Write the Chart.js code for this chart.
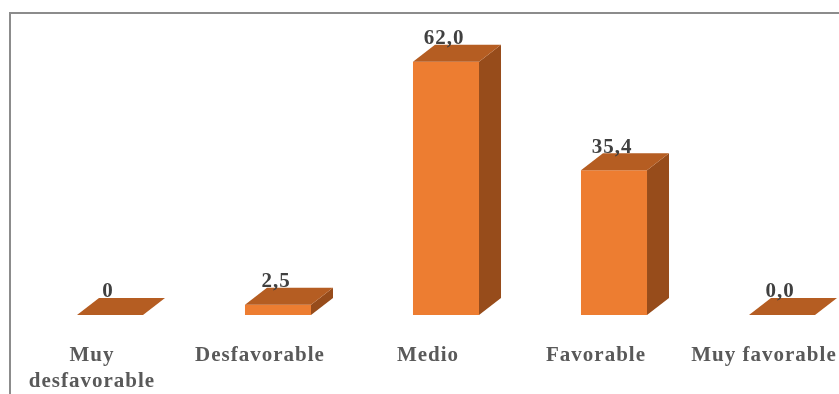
<!DOCTYPE html>
<html>
<head>
<meta charset="utf-8">
<script src="https://cdn.jsdelivr.net/npm/chart.js@4"></script>
<style>
  html, body { margin: 0; padding: 0; background: #fff; overflow: hidden; }
  #wrap { width: 900px; height: 394px; position: relative; }
</style>
</head>
<body>
<div id="wrap"><canvas id="c"></canvas></div>
<script>
const categories = [["Muy", "desfavorable"], "Desfavorable", "Medio", "Favorable", "Muy favorable"];
const values = [0, 2.5, 62.0, 35.4, 0.0];
const valueLabels = ["0", "2,5", "62,0", "35,4", "0,0"];

const FRONT = '#ED7D31';
const TOP = '#B55D22';
const SIDE = '#974C1B';
const DX = 22, DY = -17;

const framePlugin = {
  id: 'frame',
  beforeDraw(chart) {
    const ctx = chart.ctx;
    ctx.save();
    ctx.strokeStyle = '#8c8c8c';
    ctx.lineWidth = 2;
    ctx.strokeRect(10, 13, 2000, 2000);
    ctx.restore();
    ctx.letterSpacing = '1px';
  },
  afterDraw(chart) {
    chart.ctx.letterSpacing = '0px';
  }
};

const bar3dPlugin = {
  id: 'bar3d',
  afterDatasetsDraw(chart) {
    const ctx = chart.ctx;
    const meta = chart.getDatasetMeta(0);
    ctx.save();
    meta.data.forEach((bar, i) => {
      const p = bar.getProps(['x', 'y', 'base', 'width'], true);
      const l = p.x - p.width / 2, r = p.x + p.width / 2;
      ctx.fillStyle = SIDE;
      ctx.beginPath();
      ctx.moveTo(r, p.y);
      ctx.lineTo(r + DX, p.y + DY);
      ctx.lineTo(r + DX, p.base + DY);
      ctx.lineTo(r, p.base);
      ctx.closePath();
      ctx.fill();
      ctx.fillStyle = TOP;
      ctx.beginPath();
      ctx.moveTo(l, p.y);
      ctx.lineTo(l + DX, p.y + DY);
      ctx.lineTo(r + DX, p.y + DY);
      ctx.lineTo(r, p.y);
      ctx.closePath();
      ctx.fill();
    });
    ctx.letterSpacing = '1px';
    ctx.font = 'bold 21px "Liberation Serif", "Times New Roman", serif';
    ctx.fillStyle = '#404040';
    ctx.textAlign = 'center';
    ctx.textBaseline = 'middle';
    meta.data.forEach((bar, i) => {
      const p = bar.getProps(['x', 'y'], true);
      ctx.fillText(valueLabels[i], p.x - 2, p.y - 23);
    });
    ctx.restore();
  }
};

new Chart(document.getElementById('c'), {
  type: 'bar',
  data: {
    labels: categories,
    datasets: [{
      data: values,
      backgroundColor: FRONT,
      borderWidth: 0,
      categoryPercentage: 1.0,
      barPercentage: 0.393
    }]
  },
  options: {
    responsive: true,
    maintainAspectRatio: false,
    animation: false,
    events: [],
    layout: { padding: { left: 26, right: 34, top: 29, bottom: 0 } },
    plugins: { legend: { display: false }, tooltip: { enabled: false } },
    scales: {
      x: {
        grid: { display: false, drawTicks: false },
        border: { display: false },
        ticks: {
          autoSkip: false,
          maxRotation: 0,
          padding: 27,
          labelOffset: -18,
          color: '#595959',
          font: { family: '"Liberation Serif", "Times New Roman", serif', size: 21, weight: 'bold', lineHeight: 1.25 }
        },
        afterFit(scale) { scale.height = 79; }
      },
      y: {
        display: false,
        min: 0,
        max: 70
      }
    }
  },
  plugins: [framePlugin, bar3dPlugin]
});
</script>
</body>
</html>
